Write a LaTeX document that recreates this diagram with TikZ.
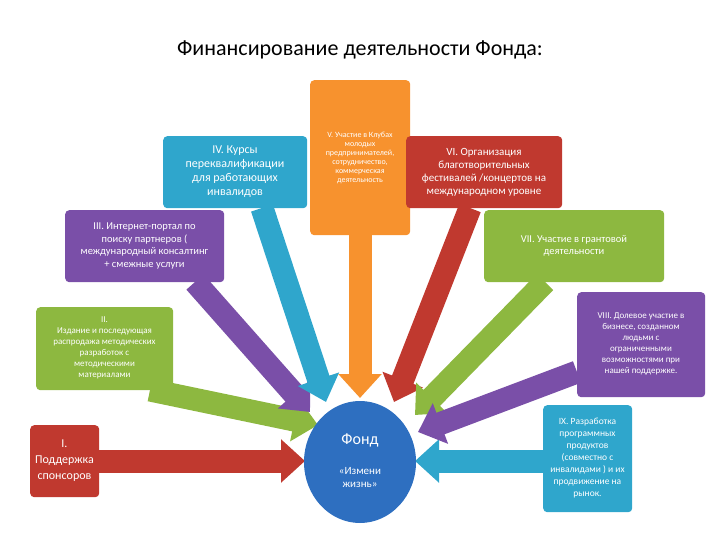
\documentclass[tikz,border=0pt]{standalone}
\usepackage{fontspec}
\setmainfont{Carlito}
\usetikzlibrary{arrows.meta,shapes.geometric}
\definecolor{cred}{HTML}{C0392F}
\definecolor{cora}{HTML}{F7922E}
\definecolor{cblue}{HTML}{2FA6CC}
\definecolor{cpur}{HTML}{7A4FA8}
\definecolor{cgrn}{HTML}{8DB840}
\definecolor{ccirc}{HTML}{2E6FC0}
\tikzset{
 box/.style={draw=none,rounded corners=4pt,text=white,align=center,inner sep=2pt,anchor=north west},
 arr/.style={line width=23pt,-{Triangle[width=42pt,length=24pt]}},
 lbl/.style={text=white,align=center},
}
\begin{document}
\begin{tikzpicture}[x=1pt,y=-1pt]
\useasboundingbox (0,0) rectangle (720,540);
\node (title) at (360,50) {\fontsize{22}{26}\selectfont Финансирование деятельности Фонда:};
% boxes
\node[box,fill=cora,minimum width=100pt,minimum height=155pt] (b5) at (310,80) {};
\node[lbl,font=\fontsize{8}{9}\selectfont] (t5) at (360,158) {V. Участие в Клубах\\молодых\\предпринимателей,\\сотрудничество,\\коммерческая\\деятельность};
\node[box,fill=cblue,minimum width=144pt,minimum height=72pt] (b4) at (163,136) {};
\node[lbl,font=\fontsize{12}{14}\selectfont] (t4) at (235,172) {IV. Курсы\\переквалификации\\для работающих\\инвалидов};
\node[box,fill=cred,minimum width=156pt,minimum height=72pt] (b6) at (406,136) {};
\node[lbl,font=\fontsize{11}{13}\selectfont] (t6) at (484,172) {VI. Организация\\благотворительных\\фестивалей /концертов на\\международном уровне};
\node[box,fill=cpur,minimum width=159pt,minimum height=72pt] (b3) at (65,210) {};
\node[lbl,font=\fontsize{10.5}{12.5}\selectfont] (t3) at (144.5,246) {III. Интернет-портал по\\поиску партнеров (\\международный консалтинг\\+ смежные услуги};
\node[box,fill=cgrn,minimum width=180pt,minimum height=72pt] (b7) at (484,210) {};
\node[lbl,font=\fontsize{10.5}{12.5}\selectfont] (t7) at (574,246) {VII. Участие в грантовой\\деятельности};
\node[box,fill=cgrn,minimum width=137pt,minimum height=83pt] (b2) at (36,307) {};
\node[lbl,font=\fontsize{9}{11}\selectfont] (t2) at (104.5,348) {II.\\Издание и последующая\\распродажа методических\\разработок с\\методическими\\материалами};
\node[box,fill=cpur,minimum width=128pt,minimum height=105pt] (b8) at (577,292) {};
\node[lbl,font=\fontsize{9}{11}\selectfont] (t8) at (641,344) {VIII. Долевое участие в\\бизнесе, созданном\\людьми с\\ограниченными\\возможностями при\\нашей поддержке.};
\node[box,fill=cred,minimum width=69pt,minimum height=72pt] (b1) at (30,425) {};
\node[lbl,font=\fontsize{12}{16}\selectfont] (t1) at (64.5,461) {I.\\Поддержка\\спонсоров};
\node[box,fill=cblue,minimum width=89pt,minimum height=107pt] (b9) at (543,405) {};
\node[lbl,font=\fontsize{9.5}{12}\selectfont] (t9) at (587.5,458) {IX. Разработка\\программных\\продуктов\\(совместно с\\инвалидами ) и их\\продвижение на\\рынок.};
% arrows
\coordinate (s1) at (99,461); \coordinate (e1) at (305,461);
\coordinate (s9) at (543,461); \coordinate (e9) at (415,461);
\coordinate (s2) at (150,390); \coordinate (e2) at (318,425);
\coordinate (s3) at (195,282); \coordinate (e3) at (310,412);
\coordinate (s4) at (262,208); \coordinate (e4) at (326,402);
\coordinate (s5) at (360,235); \coordinate (e5) at (360,398);
\coordinate (s6) at (470,208); \coordinate (e6) at (394,402);
\coordinate (s7) at (545,282); \coordinate (e7) at (415,415);
\coordinate (s8) at (577,372); \coordinate (e8) at (418,432);
\draw[arr,cred] (s1) -- (e1);
\draw[arr,cblue] (s9) -- (e9);
\draw[arr,cgrn] (s2) -- (e2);
\draw[arr,cpur] (s3) -- (e3);
\draw[arr,cblue] (s4) -- (e4);
\draw[arr,cora] (s5) -- (e5);
\draw[arr,cred] (s6) -- (e6);
\draw[arr,cgrn] (s7) -- (e7);
\draw[arr,cpur] (s8) -- (e8);
\node[ellipse,fill=ccirc,minimum width=112pt,minimum height=122pt,inner sep=0pt] (fond) at (360,462) {};
\node[lbl,font=\fontsize{16}{20}\selectfont] (f1) at (360,440) {Фонд};
\node[lbl,font=\fontsize{11}{13}\selectfont] (f2) at (360,478) {«Измени\\жизнь»};
\end{tikzpicture}
\end{document}
